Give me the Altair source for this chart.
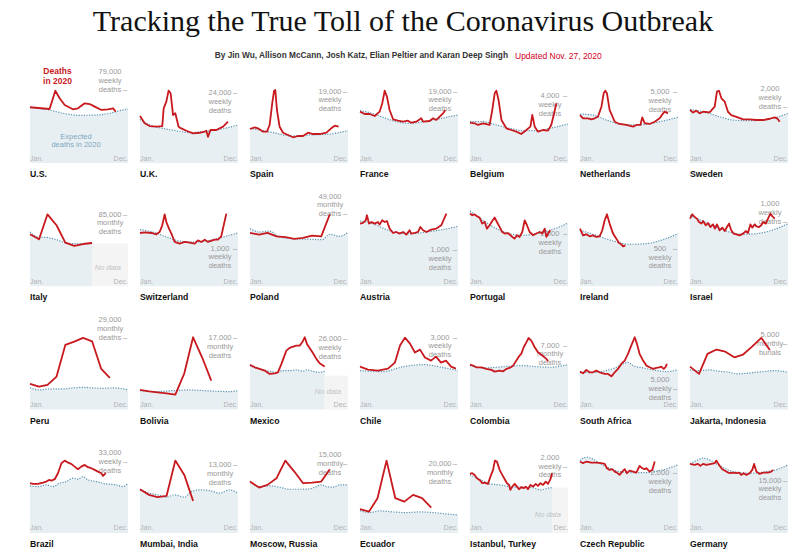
import altair as alt
import pandas as pd

W, H = 98, 99
X_MAX = 48
MONTH_X = [0, 4.43, 8.57, 13, 17.3, 21.7, 26, 30.4, 34.9, 39.1, 43.6, 48]

RED = "#c8191e"
AREA = "#e8eff3"
DOT = "#5a93b0"
GRAY = "#999999"
FONT = "Liberation Sans"

NAMES = ["U.S.", "U.K.", "Spain", "France", "Belgium", "Netherlands", "Sweden",
         "Italy", "Switzerland", "Poland", "Austria", "Portugal", "Ireland", "Israel",
         "Peru", "Bolivia", "Mexico", "Chile", "Colombia", "South Africa", "Jakarta, Indonesia",
         "Brazil", "Mumbai, India", "Moscow, Russia", "Ecuador", "Istanbul, Turkey", "Czech Republic", "Germany"]

# top of each panel's y scale (deaths)
Y_TOPS = [107100, 34060, 26330, 26330, 5910, 7000, 3535,
          117300, 2624, 67320, 2752, 3810, 1317, 1540,
          40050, 23600, 36410, 4128, 10830, 23910, 7534,
          46015, 18930, 21520, 28700, 2990, 3317, 28390]

LABEL_VALUES = [79000, 24000, 19000, 19000, 4000, 5000, 2000,
                85000, 1000, 49000, 1000, 2000, 500, 1000,
                29000, 17000, 26000, 3000, 7000, 5000, 5000,
                33000, 13000, 15000, 20000, 2000, 2000, 15000]
LABEL_UNITS = ["weekly", "weekly", "weekly", "weekly", "weekly", "weekly", "weekly",
               "monthly", "weekly", "monthly", "weekly", "weekly", "weekly", "weekly",
               "monthly", "monthly", "weekly", "weekly", "monthly", "weekly", "monthly",
               "weekly", "monthly", "monthly", "monthly", "weekly", "weekly", "weekly"]
LABEL_NOUNS = ["deaths"] * 20 + ["burials"] + ["deaths"] * 7
LABEL_DASH_LINE = [2, 0, 0, 0, 0, 0, 2,
                   0, 0, 2, 0, 0, 0, 2,
                   2, 0, 0, 0, 0, 1, 1,
                   1, 0, 1, 0, 1, 0, 0]

# ---- deaths in 2020 (week, deaths) or monthly values; expected deaths (week, deaths)
US_DEATHS = [(0, 60300), (9.6, 58400), (12.4, 78200), (14.5, 70000), (17, 62800), (21, 58100), (23.5, 59200),
             (26.8, 64600), (29.2, 63800), (31.7, 61000), (35, 57400), (38.2, 58100), (40.7, 59200), (42, 55500)]
US_EXP = [(0, 60300), (9.6, 57300), (16.2, 53800), (24.3, 51600), (32.5, 51900), (39, 53800), (44, 56600), (48, 58400)]

UK_DEATHS = [(0, 16200), (2.3, 13650), (4.7, 12700), (8, 12500), (10.9, 12700), (11.6, 18800), (12.9, 21100), (14, 24900),
             (15, 24000), (16.2, 16500), (17.3, 17100), (18.1, 14800), (18.9, 12500), (20.2, 11900), (22.7, 11100),
             (26, 10200), (29.2, 10400), (31.7, 10800), (32.5, 11100), (33.3, 9000), (34.5, 11350), (37.4, 11350),
             (40.7, 12500), (43.1, 14200)]
UK_EXP = [(0, 15000), (4.7, 13100), (11.3, 11900), (17.8, 11100), (24.3, 10450), (30.9, 10800), (37.4, 11350),
          (43.9, 12300), (48, 13100)]

SPAIN_DEATHS = [(0, 9050), (2.3, 9500), (3.9, 9230), (6.4, 8330), (8.3, 8330), (9.6, 10100), (10.9, 15900), (11.8, 19230),
                (12.4, 19400), (13.2, 14100), (14.5, 9650), (16.2, 8060), (18.6, 7450), (21.1, 6840), (23.5, 7180),
                (26, 7180), (28.4, 8060), (30.9, 7710), (34.1, 7710), (37.4, 8060), (39.8, 9230), (41.5, 9920), (43.4, 9650)]
SPAIN_EXP = [(0, 9230), (6.4, 8600), (13, 7900), (19.6, 7180), (29, 7450), (39.5, 7710), (45.7, 8330), (48, 8600)]

FRANCE_DEATHS = [(0, 13650), (2.3, 13030), (4.7, 13030), (7.2, 12500), (9.6, 13650), (10.9, 15880), (12.1, 19230),
                 (13.2, 17640), (14.5, 14100), (16.2, 11620), (18.6, 11250), (21.1, 10990), (23.5, 11250), (25.1, 10720),
                 (27.6, 10990), (30, 11890), (30.9, 10990), (34.1, 11170), (35.8, 11890), (37.4, 11440), (39, 12320),
                 (40.7, 13220), (41.8, 14100)]
FRANCE_EXP = [(0, 13920), (4.7, 13390), (11.3, 12150), (17.8, 10990), (24.3, 10550), (30.9, 10990), (37.4, 11620),
              (43.9, 12320), (48, 12770)]

BELGIUM_DEATHS = [(0, 2410), (2.3, 2370), (3.9, 2270), (6.4, 2370), (9.6, 2270), (10.9, 3160), (12.1, 4160), (12.9, 4320),
                  (14, 3760), (15.4, 2570), (17.8, 2070), (20.2, 1970), (22.7, 1870), (25.1, 1730), (27.6, 1970),
                  (29.6, 2170), (30.5, 2870), (31.7, 2170), (33.3, 1870), (35.8, 1970), (38.2, 1930), (39.8, 2270),
                  (41, 2870), (42.3, 3560)]
BELGIUM_EXP = [(0, 2470), (6.4, 2470), (12.9, 2270), (19.4, 2070), (26, 1930), (32.5, 1930), (39, 2070), (48, 2330)]

NETH_DEATHS = [(0, 3390), (1.5, 3160), (3.9, 3160), (5.6, 3090), (7.2, 3160), (8.8, 3270), (10.5, 3980), (11.6, 4930),
               (12.4, 5110), (13.2, 4930), (14.5, 3750), (17, 2920), (19.4, 2760), (22.7, 2690), (26, 2570), (27.6, 2690),
               (29.6, 2690), (30.5, 3230), (31.7, 2810), (34.1, 2760), (36.6, 2920), (39, 3160), (40.7, 3510),
               (41.5, 3630), (43.1, 3510)]
NETH_EXP = [(0, 3460), (6.4, 3390), (12.9, 3040), (19.4, 2760), (26, 2690), (32.5, 2760), (39, 2920), (48, 3230)]

SWEDEN_DEATHS = [(0, 1890), (1.5, 1800), (3.1, 1870), (4.7, 1770), (6.4, 1830), (9.6, 1810), (12.1, 2010), (13.2, 2550),
                 (14.2, 2580), (15.4, 2310), (17, 2190), (18.6, 1830), (20.2, 1710), (22.7, 1650), (26, 1560),
                 (29.2, 1560), (32.5, 1535), (35.8, 1535), (39, 1580), (41.5, 1630), (42.6, 1595), (43.1, 1560),
                 (43.9, 1475)]
SWEDEN_EXP = [(0, 1915), (8, 1800), (14.5, 1650), (21.1, 1535), (27.6, 1510), (35.8, 1535), (42.3, 1630), (48, 1770)]

ITALY_MONTHLY = [61600, 55700, 85300, 72300, 51800, 47800, 50100, 51300]
ITALY_EXP = [(0, 64400), (3.9, 58500), (8.8, 57700), (12.9, 55300), (17.3, 51800), (21.1, 50600), (26, 50600), (30.4, 51800)]

SWISS_DEATHS = [(0, 1413), (2.3, 1431), (5.6, 1413), (8, 1378), (9.6, 1440), (10.9, 1617), (12.1, 1908), (12.9, 1705),
                (14.2, 1528), (15.4, 1396), (17, 1175), (19.4, 1131), (21.9, 1175), (24.3, 1158), (26.8, 1131),
                (28.4, 1219), (30, 1175), (31.7, 1237), (33.3, 1175), (36.6, 1237), (38.2, 1237), (39.8, 1325),
                (41, 1617), (42.3, 1926)]
SWISS_EXP = [(0, 1502), (6.4, 1440), (12.9, 1307), (19.4, 1201), (26, 1175), (32.5, 1201), (40.7, 1307), (48, 1413)]

POLAND_MONTHLY = [36300, 35100, 36300, 34000, 33500, 32200, 32900, 34500, 34000, 49000]
POLAND_EXP = [(0, 39200), (4.7, 36900), (9.6, 37600), (14.5, 33500), (21.1, 32400), (29.2, 32000), (35.3, 31700),
              (39.1, 35400), (43.7, 34000), (48, 36500)]

AUSTRIA_DEATHS = [(0, 1743), (1.5, 1760), (2.8, 1835), (3.4, 1974), (4.4, 1743), (5.6, 1788), (7.2, 1743), (8.8, 1788),
                  (9.6, 1715), (10.9, 1835), (12.1, 1788), (13.2, 1815), (14.5, 1604), (16.2, 1482), (17.8, 1510),
                  (19.4, 1465), (21.1, 1510), (22.7, 1437), (24.3, 1557), (25.1, 1465), (26.8, 1482), (28.4, 1510),
                  (29.6, 1649), (30.9, 1557), (32.5, 1510), (34.9, 1576), (37.4, 1604), (39.8, 1696), (42.3, 2021)]
AUSTRIA_EXP = [(0, 1815), (6.4, 1743), (12.9, 1576), (19.4, 1482), (26, 1465), (32.5, 1510), (40.7, 1576), (48, 1668)]

PORTUGAL_DEATHS = [(0, 2800), (1.1, 2735), (2.3, 2770), (3.4, 2695), (4.7, 2645), (6, 2415), (7.2, 2475), (8.3, 2220),
                   (9.6, 2350), (10.9, 2515), (12.1, 2645), (13.2, 2475), (14.5, 2285), (15.8, 2090), (17, 2030),
                   (18.6, 2050), (19.8, 1965), (21.1, 1875), (21.9, 1835), (23, 1965), (24.3, 1900), (25.6, 2090),
                   (26.8, 2540), (27.9, 2350), (29.2, 2090), (30.9, 1965), (32.5, 2030), (34.1, 2090), (35.4, 2030),
                   (36.6, 2220), (37.4, 1900), (38.7, 2090), (39.4, 2155)]
PORTUGAL_EXP = [(0, 2900), (6.4, 2540), (12.9, 2220), (19.4, 2030), (26, 1965), (32.5, 2030), (39, 2155), (43.9, 2285),
                (48, 2440)]

IRELAND_DEATHS = [(0, 767), (1.5, 678), (3.1, 692), (4.7, 665), (6.4, 678), (8, 656), (9.6, 665), (10.9, 745), (12.1, 878),
                  (13.2, 958), (14.5, 834), (16.2, 701), (17.8, 634), (19.1, 576), (20.2, 559), (21.1, 532), (22.2, 545)]
IRELAND_EXP = [(0, 745), (8, 678), (16.2, 603), (24.3, 559), (32.5, 568), (40.7, 621), (48, 701)]

ISRAEL_DEATHS = [(0, 1053), (1.1, 1120), (2.3, 1078), (3.4, 1053), (4.4, 1000), (5.6, 975), (6.4, 1015), (7.7, 949),
                 (8.8, 984), (10, 922), (11.3, 964), (12.2, 897), (13.2, 964), (14.5, 871), (15.8, 913), (17, 860),
                 (18.1, 922), (19.1, 975), (20.2, 871), (21.4, 819), (22.7, 809), (24.3, 793), (26, 819), (27.3, 860),
                 (28.4, 829), (29.6, 964), (30.5, 913), (31.7, 964), (32.5, 933), (33.8, 922), (34.9, 949), (35.8, 1000),
                 (37.1, 975), (38.2, 1053), (39.4, 1130), (40.3, 1088), (41.5, 1053)]
ISRAEL_EXP = [(0, 1104), (6.4, 1015), (12.9, 922), (19.4, 844), (26, 809), (32.5, 819), (39, 860), (48, 975)]

PERU_MONTHLY = [10400, 9300, 10000, 13350, 26170, 27500, 29000, 27630, 16460, 12820]
PERU_EXP = [(0, 8780), (4.7, 7970), (9.6, 8370), (16.2, 8370), (21.1, 8780), (26, 9020), (30.9, 8780), (35.8, 8620),
            (40.7, 8780), (48, 7970)]

BOLIVIA_MONTHLY = [4700, 4360, 4120, 3890, 3580, 8650, 17240, 12470, 6910]
BOLIVIA_EXP = [(0, 4530), (8, 4290), (16.2, 4530), (24.3, 4690), (30.9, 4530), (37.4, 4370), (43.9, 4290), (48, 4530)]

MEXICO_DEATHS = [(0, 16440), (2.3, 15560), (4.7, 14970), (7.2, 14340), (9.6, 13130), (12.1, 13350), (13.7, 13720),
                 (15.4, 16810), (17.8, 21700), (19.4, 22690), (21.1, 23170), (22.7, 23540), (24.3, 23540), (25.6, 24750),
                 (26.8, 26590), (27.9, 24160), (29.2, 22690), (30.9, 20710), (32.5, 18650), (34.1, 17030), (35.8, 16180),
                 (36.6, 15820)]
MEXICO_EXP = [(0, 16180), (3.1, 15330), (6.4, 14600), (9.6, 14090), (12.9, 13720), (16.2, 14340), (19.4, 14340),
              (22.7, 14600), (26, 14090), (27.6, 14600), (30.9, 14090), (34.1, 13720), (36.6, 14090)]

CHILE_DEATHS = [(0, 1790), (3.9, 1670), (8.8, 1625), (13.7, 1710), (17.1, 1960), (19.6, 2670), (22, 3000), (24.5, 2750),
                (26.9, 2380), (29.4, 2500), (31.8, 2170), (34.8, 2040), (37.2, 2210), (39.7, 1960), (42.1, 2040),
                (44.6, 1790), (47, 1710)]
CHILE_EXP = [(0, 1625), (11.3, 1585), (21.1, 1790), (30.9, 1875), (40.7, 1750), (48, 1625)]

COLOMBIA_DEATHS = [(0, 4920), (1.5, 4810), (3.1, 4630), (5.6, 4630), (8, 4450), (10.5, 4340), (12.1, 4160), (14.5, 4270),
                   (16.2, 4190), (17.8, 4450), (19.4, 4560), (21.1, 4810), (22.7, 5360), (24.3, 5910), (25.1, 6090),
                   (26.3, 6820), (27.6, 7360), (28.7, 7840), (30, 7550), (31.7, 6820), (33.3, 6270), (35.4, 5910),
                   (37.4, 5550), (38.2, 5280)]
COLOMBIA_EXP = [(0, 4810), (6.4, 4560), (12.9, 4630), (19.4, 4740), (26, 4810), (32.5, 4700), (39, 4630), (48, 4920)]

SA_DEATHS = [(0, 9180), (1.5, 8770), (3.1, 9590), (4.7, 9010), (6.4, 9010), (8, 9420), (9.6, 9010), (12.1, 8620),
             (13.7, 8620), (15.4, 8040), (17, 9010), (18.6, 9830), (20.2, 11040), (21.9, 11830), (23.5, 13450),
             (25.1, 15460), (26.8, 17460), (27.9, 15870), (29.2, 13450), (30.9, 11830), (32.5, 10630), (34.1, 10220),
             (35.8, 9830), (37.4, 10070), (38.7, 10220), (39.8, 10380), (41, 9830), (41.8, 10220), (42.6, 11040)]
SA_EXP = [(0, 9010), (6.4, 9010), (12.9, 9420), (17.8, 10220), (21.1, 11040), (23.5, 11430), (26, 10630), (30.9, 10070),
          (35.8, 9590), (42.3, 9180), (48, 9590)]

JAKARTA_MONTHLY = [3270, 2720, 4240, 4570, 4410, 3980, 4190, 4790, 5460, 4540]
JAKARTA_EXP = [(0, 3020), (4.7, 2970), (9.6, 3020), (14.5, 2910), (19.4, 2840), (22.7, 2720), (27.6, 2760), (32.5, 2840),
               (37.4, 2910), (40.7, 2970), (48, 2840)]

BRAZIL_DEATHS = [(0, 23100), (1.5, 22780), (3.9, 22780), (6.4, 23380), (8, 23840), (9.3, 24630), (10.5, 24310),
                 (12.1, 24960), (13.7, 27750), (15.4, 32400), (17, 33600), (18.6, 32680), (20.2, 32070), (21.9, 30820),
                 (23.5, 29610), (25.1, 30820), (26.8, 31610), (28.4, 30540), (30, 30070), (31.7, 29280), (33.3, 28490),
                 (34.9, 27750), (35.8, 26490), (37.1, 27750)]
BRAZIL_EXP = [(0, 21850), (3.9, 21520), (8, 22310), (11.3, 21520), (14.5, 23100), (17.8, 23840), (21.1, 25420),
              (23.5, 24960), (25.9, 26170), (28.4, 24630), (32.5, 23840), (37.4, 22780), (42.3, 22310), (45.5, 21520),
              (48, 23100)]

MUMBAI_MONTHLY = [8350, 7270, 6820, 7070, 13830, 11090, 6120]
MUMBAI_EXP = [(0, 8220), (4.7, 7590), (8.8, 7270), (12.9, 6820), (17, 7270), (21.9, 6820), (25.1, 7900), (29.2, 8220),
              (34.1, 8090), (39, 7590), (43.9, 8220), (48, 7590)]

MOSCOW_MONTHLY = [11160, 9850, 10440, 11890, 15720, 13330, 10800, 10940, 11160, 13850]
MOSCOW_EXP = [(0, 11160), (4.7, 10070), (9.6, 10220), (14.5, 9930), (19.4, 9490), (24.3, 9490), (29.2, 9570),
              (32.5, 10070), (34.9, 10440), (37.4, 10070), (40.7, 9930), (44, 10440), (48, 10440)]

ECUADOR_MONTHLY = [6870, 6180, 10060, 20960, 10060, 9070, 11020, 10060, 7330]
ECUADOR_EXP = [(0, 6470), (4.7, 5890), (9.6, 6380), (16.2, 6090), (22.7, 5890), (29.2, 6090), (35.8, 5890), (42.3, 5510),
               (48, 5220)]

ISTANBUL_DEATHS = [(0, 1782), (1.1, 1803), (2.3, 1752), (3.4, 1652), (4.7, 1601), (6, 1501), (7.2, 1519), (8.8, 1480),
                   (10, 1700), (11.3, 1903), (12.2, 2183), (13.2, 2153), (14.5, 1903), (15.8, 1752), (17, 1622),
                   (18.1, 1501), (19.1, 1450), (19.8, 1299), (20.7, 1398), (21.9, 1480), (23, 1398), (24, 1320),
                   (25.1, 1380), (26.3, 1350), (27.3, 1398), (28.4, 1320), (29.6, 1450), (30.9, 1398), (32.2, 1480),
                   (33.3, 1419), (34.5, 1501), (35.8, 1450), (37.1, 1549), (38.2, 1480), (39.4, 1622), (40.2, 1803)]
ISTANBUL_EXP = [(0, 1752), (4.7, 1622), (9.6, 1480), (14.5, 1450), (19.4, 1398), (24.3, 1380), (29.6, 1380), (34.5, 1299),
                (38.2, 1350), (40.2, 1368)]

CZECH_DEATHS = [(0, 2390), (1.5, 2335), (3.1, 2390), (5.6, 2355), (8, 2355), (10.5, 2335), (12.1, 2310), (13.2, 2167),
                (14.5, 2110), (15.8, 2134), (17, 2054), (18.1, 2020), (19.4, 1943), (20.7, 2054), (21.9, 2134), (23, 2000),
                (24.3, 2087), (26, 2054), (27.6, 2020), (29.2, 2245), (30.5, 2167), (31.7, 2134), (32.5, 2167),
                (34.1, 2054), (35.4, 2110), (36.6, 2390)]
CZECH_EXP = [(0, 2422), (3.1, 2536), (6.4, 2469), (9.6, 2335), (14.5, 2167), (19.4, 2054), (26, 2020), (32.5, 2020),
             (39, 2087), (48, 2278)]

GERMANY_DEATHS = [(0, 19790), (2.3, 19500), (3.9, 19790), (5.1, 19220), (6.4, 19790), (8, 19500), (10.5, 19790),
                  (12.1, 19990), (12.9, 20740), (14.2, 19500), (15.8, 18270), (17.8, 17580), (19.4, 17120), (21.1, 17290),
                  (22.7, 17120), (24, 17290), (25.1, 16630), (26.3, 17120), (27.6, 16630), (29.2, 17120), (30.5, 18070),
                  (31.4, 19790), (32.5, 17580), (34.1, 16920), (35.8, 17290), (38.2, 17290), (39.8, 17580), (40.7, 18070)]
GERMANY_EXP = [(0, 19790), (3.9, 20940), (6.4, 21420), (9.6, 20940), (12.9, 19790), (17.8, 18270), (24.3, 17290),
               (30.9, 17120), (37.4, 17580), (43.1, 18270), (48, 19500)]

# "No data" boxes: (start week, height in deaths)
NO_DATA = {"Italy": (30.4, 50600), "Mexico": (36.6, 12500), "Istanbul, Turkey": (40.2, 1370)}


def pairs(p):
    return pd.DataFrame(p, columns=["x", "v"])


def monthly(vals):
    return pd.DataFrame({"x": MONTH_X[:len(vals)], "v": vals})


DEATHS = [pairs(US_DEATHS), pairs(UK_DEATHS), pairs(SPAIN_DEATHS), pairs(FRANCE_DEATHS), pairs(BELGIUM_DEATHS),
          pairs(NETH_DEATHS), pairs(SWEDEN_DEATHS),
          monthly(ITALY_MONTHLY), pairs(SWISS_DEATHS), monthly(POLAND_MONTHLY), pairs(AUSTRIA_DEATHS),
          pairs(PORTUGAL_DEATHS), pairs(IRELAND_DEATHS), pairs(ISRAEL_DEATHS),
          monthly(PERU_MONTHLY), monthly(BOLIVIA_MONTHLY), pairs(MEXICO_DEATHS), pairs(CHILE_DEATHS),
          pairs(COLOMBIA_DEATHS), pairs(SA_DEATHS), monthly(JAKARTA_MONTHLY),
          pairs(BRAZIL_DEATHS), monthly(MUMBAI_MONTHLY), monthly(MOSCOW_MONTHLY), monthly(ECUADOR_MONTHLY),
          pairs(ISTANBUL_DEATHS), pairs(CZECH_DEATHS), pairs(GERMANY_DEATHS)]
EXPECTED = [pairs(p) for p in [US_EXP, UK_EXP, SPAIN_EXP, FRANCE_EXP, BELGIUM_EXP, NETH_EXP, SWEDEN_EXP,
                               ITALY_EXP, SWISS_EXP, POLAND_EXP, AUSTRIA_EXP, PORTUGAL_EXP, IRELAND_EXP, ISRAEL_EXP,
                               PERU_EXP, BOLIVIA_EXP, MEXICO_EXP, CHILE_EXP, COLOMBIA_EXP, SA_EXP, JAKARTA_EXP,
                               BRAZIL_EXP, MUMBAI_EXP, MOSCOW_EXP, ECUADOR_EXP, ISTANBUL_EXP, CZECH_EXP, GERMANY_EXP]]


def one(**kw):
    return pd.DataFrame({k: [v] for k, v in kw.items()})


def txt(text, x, y, **props):
    base = dict(font=FONT, fontSize=7.5, color=GRAY, align="left", baseline="middle")
    base.update(props)
    return alt.Chart(one(t=text)).mark_text(**base).encode(x=alt.value(x), y=alt.value(y), text="t:N")


def make_panel(i):
    name = NAMES[i]
    xs = alt.Scale(domain=[0, X_MAX], nice=False, zero=False)
    ys = alt.Scale(domain=[0, Y_TOPS[i]], nice=False, zero=True)

    def X():
        return alt.X("x:Q", scale=xs, axis=None)

    def Y():
        return alt.Y("v:Q", scale=ys, axis=None)

    layers = [alt.Chart(EXPECTED[i]).mark_area(color=AREA, interpolate="monotone").encode(x=X(), y=Y())]

    if name in NO_DATA:
        x0, top = NO_DATA[name]
        box = one(x=x0, x2=X_MAX, v=top, b=0)
        layers.append(alt.Chart(box).mark_rect(color="#f4f4f4").encode(
            x=X(), x2="x2:Q", y=Y(), y2="b:Q"))
        layers.append(txt("No data", W - 7, H - 18, align="right", fontStyle="italic", color="#c2c2c2"))

    L = LABEL_VALUES[i]
    lines = [f"{L:,}", LABEL_UNITS[i], LABEL_NOUNS[i]]
    dash = LABEL_DASH_LINE[i]
    for j, line in enumerate(lines):
        layers.append(alt.Chart(one(v=L, t=line)).mark_text(
            font=FONT, fontSize=7.5, color=GRAY, align="center", baseline="middle", dy=(j - dash) * 8.8
        ).encode(x=alt.value(W - 18), y=Y(), text="t:N"))
    layers.append(alt.Chart(one(v=L, t="–")).mark_text(
        font=FONT, fontSize=7.5, color=GRAY, align="center", baseline="middle"
    ).encode(x=alt.value(W - 3), y=Y(), text="t:N"))

    layers.append(alt.Chart(EXPECTED[i]).mark_line(
        color=DOT, strokeWidth=1.2, strokeDash=[1.2, 1.4], interpolate="monotone").encode(x=X(), y=Y()))
    layers.append(alt.Chart(DEATHS[i]).mark_line(color=RED, strokeWidth=1.8, strokeJoin="round").encode(x=X(), y=Y()))

    layers.append(txt("Jan.", 0, H - 4.5, fontSize=7, color="#b3b3b3"))
    layers.append(txt("Dec.", W, H - 4.5, fontSize=7, color="#b3b3b3", align="right"))
    layers.append(txt(name, 0, H + 11, fontSize=8.7, fontWeight="bold", color="#111111"))

    if name == "U.S.":
        layers.append(txt("Deaths", 27.5, 7, fontSize=8.5, fontWeight="bold", color=RED, align="center"))
        layers.append(txt("in 2020", 27.5, 16.7, fontSize=8.5, fontWeight="bold", color=RED, align="center"))
        layers.append(txt("Expected", 46, 72.7, fontSize=7.5, color="#7ea7c0", align="center"))
        layers.append(txt("deaths in 2020", 46, 81.3, fontSize=7.5, color="#7ea7c0", align="center"))

    return alt.layer(*layers).properties(width=W, height=H)


panels = [make_panel(i) for i in range(len(NAMES))]
grid = alt.concat(*panels, columns=7, spacing={"row": 24.3, "column": 12}, bounds="flush")

header = alt.layer(
    txt("Tracking the True Toll of the Coronavirus Outbreak", 373, 31, font="Liberation Serif", fontSize=30,
        color="#121212", align="center", baseline="alphabetic"),
    txt("By Jin Wu, Allison McCann, Josh Katz, Elian Peltier and Karan Deep Singh", 478, 56, fontSize=8.3,
        fontWeight="bold", color="#333333", align="right"),
    txt("Updated Nov. 27, 2020", 485, 56, fontSize=8.5, color="#d0021b", align="left"),
).properties(width=746, height=62)

chart = alt.vconcat(header, grid, spacing=2).properties(
    padding={"left": 27, "top": 0, "right": 0, "bottom": 0},
    background="white",
).configure_view(strokeWidth=0)

chart.save("out.html", embed_options={"renderer": "svg", "actions": False})
